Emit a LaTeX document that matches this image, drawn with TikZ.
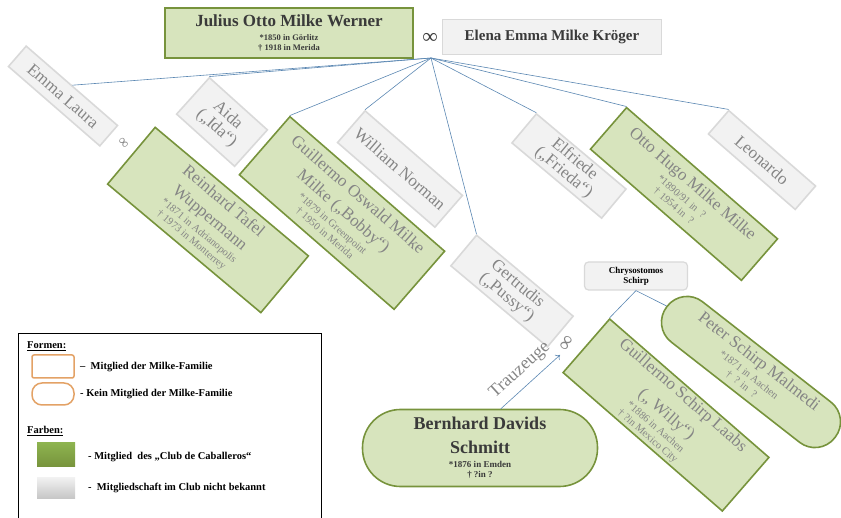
\documentclass[tikz,border=0pt]{standalone}
\usepackage{fontspec}
\setmainfont{Liberation Serif}
\usepackage{tikz}
\definecolor{clubgreen}{HTML}{D7E4BD}
\definecolor{clubedge}{HTML}{77933C}
\definecolor{unkgray}{HTML}{F2F2F2}
\definecolor{unkedge}{HTML}{D9D9D9}
\definecolor{nametext}{HTML}{858585}
\definecolor{darktext}{HTML}{3A3A3A}
\definecolor{linkblue}{HTML}{5B87B2}
\definecolor{formorange}{HTML}{E3A266}
\definecolor{legendgreen}{HTML}{8DB34F}
\usetikzlibrary{arrows.meta}
\usetikzlibrary{positioning}

\newcommand{\bigname}[1]{{\fontsize{17}{18}\selectfont #1}}

\begin{document}
\begin{tikzpicture}[x=1pt,y=-1pt,
      member/.style={draw=clubedge,fill=clubgreen,line width=1.6pt,inner sep=0pt,align=center,text=nametext,font=\fontsize{10.5}{11}\selectfont},
      unknown/.style={draw=unkedge,fill=unkgray,line width=1.6pt,inner sep=0pt,align=center,text=nametext,font=\fontsize{17}{17}\selectfont},
      link/.style={linkblue,line width=0.6pt},
      legendtext/.style={anchor=west,font=\bfseries\fontsize{10.5}{12}\selectfont,inner sep=0pt}]

           \useasboundingbox (0,0) rectangle (841,518);

           \node [member,minimum width=248,minimum height=50,text=darktext,font=\bfseries\fontsize{8.5}{9.5}\selectfont] (julius) at (289,33)
                 {{\fontsize{17}{18}\selectfont Julius Otto Milke Werner}\\[5pt]*1850 in Görlitz\\† 1918 in Merida};
           \node [text=darktext,font=\bfseries\fontsize{21}{21}\selectfont,inner sep=0pt] (ringj) at (430,38) {∞};
           \node [unknown,minimum width=219,minimum height=35,text=darktext,font=\bfseries\fontsize{15}{15}\selectfont] (elena) at (552,37)
                 {Elena Emma Milke Kröger};

           \coordinate (hub) at (431,58);

           \node [unknown,minimum width=121,minimum height=27,rotate=-41] (emma) at (63,96) {Emma Laura};
           \node [unknown,minimum width=78,minimum height=49,rotate=-42] (aida) at (222,122) {Aida\\(„Ida“)};
           \node [unknown,minimum width=129,minimum height=42,rotate=-41] (william) at (400,169) {William Norman};
           \node [unknown,minimum width=126,minimum height=40,rotate=-40] (gertrudis) at (512,291) {Gertrudis\\(„Pussy“)};
           \node [unknown,minimum width=117,minimum height=38,rotate=-40] (elfriede) at (569,166) {Elfriede\\(„Frieda“)};
           \node [unknown,minimum width=115,minimum height=31,rotate=-41] (leonardo) at (762,160) {Leonardo};

           \node [member,minimum width=200,minimum height=74,rotate=-40] (reinhard) at (208,220)
                 {\bigname{Reinhard Tafel}\\[9pt]\bigname{Wuppermann}\\[4pt]*1871 in Adrianopolis\\[1pt]† 1973 in Monterrey};
           \node [member,minimum width=205,minimum height=77,rotate=-41] (oswald) at (342,213)
                 {\bigname{Guillermo Oswald Milke}\\[9pt]\bigname{Milke („Bobby“)}\\[4pt]*1879 in Greenpoint\\[1pt]† 1950 in Merida};
           \node [member,minimum width=200,minimum height=55,rotate=-41] (otto) at (684,194)
                 {\bigname{Otto Hugo Milke Milke}\\[4pt]*1890/91 in \ ?\\[1pt]† 1954 in \ ?};
           \node [member,minimum width=211,minimum height=71,rotate=-41] (schirpg) at (666,415)
                 {\bigname{Guillermo Schirp Laabs}\\[9pt]\bigname{(„ Willy“)}\\[4pt]*1886 in Aachen\\[1pt]† ?in Mexico City};
           \node [member,minimum width=213,minimum height=51,rounded corners=25pt,rotate=-38] (peter) at (751,372)
                 {\bigname{Peter Schirp Malmedi}\\[4pt]*1871 in Aachen\\[1pt]† \ ? in \ ?};
           \node [member,minimum width=235,minimum height=77,rounded corners=38pt,text=darktext,font=\bfseries\fontsize{9}{10}\selectfont] (bernhard) at (480,448)
                 {{\fontsize{18}{19}\selectfont Bernhard Davids}\\[10pt]{\fontsize{18}{19}\selectfont Schmitt}\\[4pt]*1876 in Emden\\† ?in ?};
           \node [draw=unkedge,fill=unkgray,line width=1.2pt,rounded corners=4pt,minimum width=103,minimum height=28,inner sep=0pt,
                  align=center,font=\bfseries\fontsize{9}{10}\selectfont] (chrys) at (636,276) {Chrysostomos\\Schirp};

           \node [text=nametext,font=\fontsize{15}{15}\selectfont,inner sep=0pt,rotate=-50] (ringe) at (123,143) {∞};
           \node [text=nametext,font=\fontsize{21}{21}\selectfont,inner sep=0pt,rotate=60] (ringg) at (567,343) {∞};
           \coordinate (tzend) at (560,355);

           \draw [link] (hub) -- (emma.north);
           \foreach \kid in {aida,oswald,william,gertrudis,elfriede,otto,leonardo}
               \draw [link] (hub) -- (\kid.north west);

           \draw [link] (chrys.south) -- (schirpg.north west);
           \draw [link] (chrys.south) -- (peter.west);

           \draw [link,-{To[length=4pt,width=7pt]}] (bernhard.62) -- node [sloped,above=4pt,text=nametext,font=\fontsize{18}{18}\selectfont] (tz) {Trauzeuge} (tzend);

           % legend
           \draw [black,line width=0.8pt] (18,333) rectangle (321,530);
           \node [legendtext] (formen) at (27,346) {\underline{Formen:}};
           \draw [formorange,line width=1.5pt,rounded corners=2pt] (32,355) rectangle (74,378);
           \node [legendtext] (formone) at (80,367) {– \ Mitglied der Milke-Familie};
           \draw [formorange,line width=1.5pt,rounded corners=10pt] (32,383) rectangle (74,405);
           \node [legendtext] (formtwo) at (80,394) {- Kein Mitglied der Milke-Familie};
           \node [legendtext] (farben) at (27,431) {\underline{Farben:}};
           \shade [top color=legendgreen,bottom color=clubedge] (37,443) rectangle (75,467);
           \node [legendtext] (farbone) at (88,457) {- Mitglied \ des „Club de Caballeros“};
           \shade [top color=unkgray,bottom color=black!22] (37,477) rectangle (75,498);
           \node [legendtext] (farbtwo) at (88,488) {- \ Mitgliedschaft im Club nicht bekannt};

        \end{tikzpicture}
\end{document}
